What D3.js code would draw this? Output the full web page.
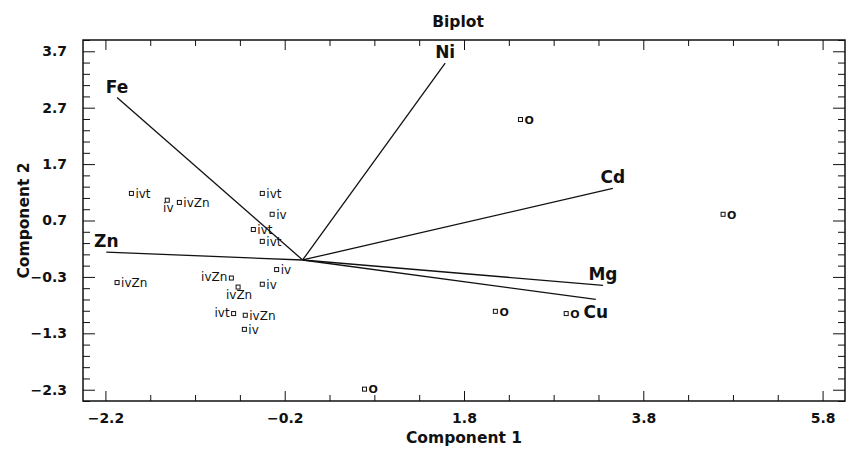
<!DOCTYPE html>
<html>
<head>
<meta charset="utf-8">
<script src="https://cdn.jsdelivr.net/npm/d3@7"></script>
<style>
  html, body { margin: 0; padding: 0; background: #fff; }
  text { font-family: "DejaVu Sans", sans-serif; fill: #111; }
</style>
</head>
<body>
<div id="chart"></div>
<script>
    // --------------------
    // 1) DATA
    // --------------------
    const xTicks = [-2.2, -0.2, 1.8, 3.8, 5.8];
    const yTicks = [3.7, 2.7, 1.7, 0.7, -0.3, -1.3, -2.3];

    // variable vectors (loadings)
    const variables = ["Fe", "Ni", "Cd", "Mg", "Cu", "Zn"];
    const loadX = [-2.07, 1.59, 3.46, 3.35, 3.27, -2.19];
    const loadY = [2.88, 3.49, 1.27, -0.45, -0.70, 0.14];
    const varLabelSide = ["above", "above", "above", "above", "below", "above"];

    // observations (scores)
    const obsLabels = ["ivt", "iv", "ivZn", "ivt", "iv", "ivt", "ivt", "iv", "ivZn", "ivZn",
                       "ivZn", "iv", "ivt", "ivZn", "iv", "O", "O", "O", "O", "O"];
    const obsX = [-1.91, -1.51, -1.375, -0.45, -0.34, -0.55, -0.45, -0.29, -2.07, -0.795,
                  -0.72, -0.45, -0.77, -0.64, -0.65, 2.43, 2.15, 2.94, 0.69, 4.69];
    const obsY = [1.18, 1.06, 1.02, 1.18, 0.81, 0.54, 0.33, -0.17, -0.40, -0.32,
                  -0.48, -0.43, -0.95, -0.98, -1.23, 2.49, -0.91, -0.95, -2.29, 0.81];
    const obsLabelSide = ["r", "b", "r", "r", "r", "r", "r", "r", "r", "l",
                          "b", "r", "l", "r", "r", "r", "r", "r", "r", "r"];

    // ----------------------
    // 2) BASIC SETUP
    // ----------------------
    const width = 849;
    const height = 457;
    const margin = { top: 40, right: 4, bottom: 56, left: 83 };
    const innerW = width - margin.left - margin.right;
    const innerH = height - margin.top - margin.bottom;

    const x = d3.scaleLinear().domain([-2.45, 6.05]).range([0, innerW]);
    const y = d3.scaleLinear().domain([-2.5, 3.9]).range([innerH, 0]);

    const xMinor = d3.range(-2.2, 6.0, 0.5).filter(v => !xTicks.some(t => Math.abs(t - v) < 1e-6));
    const yMinor = d3.range(-2.5, 3.91, 0.2).filter(v => !yTicks.some(t => Math.abs(t - v) < 1e-6));

    const svg = d3.select("#chart")
      .append("svg")
      .attr("width", width)
      .attr("height", height);

    const g = svg.append("g")
      .attr("transform", `translate(${margin.left},${margin.top})`);

    // ---------------------------
    // 3) AXES (inward ticks on all four sides)
    // ---------------------------
    function styleAxis(sel) {
      sel.select(".domain").remove();
      sel.selectAll("line").attr("stroke", "#111").attr("stroke-width", 1);
    }

    g.append("g")
      .attr("transform", `translate(0,${innerH})`)
      .call(d3.axisBottom(x).tickValues(xTicks).tickSize(-10).tickPadding(12).tickFormat(d3.format(".1f")))
      .call(styleAxis)
      .call(s => s.selectAll("text").attr("font-size", 14).attr("font-weight", "bold").attr("fill", "#111"));

    g.append("g")
      .attr("transform", `translate(0,${innerH})`)
      .call(d3.axisBottom(x).tickValues(xMinor).tickSize(-6).tickFormat(""))
      .call(styleAxis);

    g.append("g")
      .call(d3.axisTop(x).tickValues(xTicks).tickSize(-10).tickFormat(""))
      .call(styleAxis);
    g.append("g")
      .call(d3.axisTop(x).tickValues(xMinor).tickSize(-6).tickFormat(""))
      .call(styleAxis);

    g.append("g")
      .call(d3.axisLeft(y).tickValues(yTicks).tickSize(-12).tickPadding(16).tickFormat(d3.format(".1f")))
      .call(styleAxis)
      .call(s => s.selectAll("text").attr("font-size", 14).attr("font-weight", "bold").attr("fill", "#111"));

    g.append("g")
      .call(d3.axisLeft(y).tickValues(yMinor).tickSize(-7).tickFormat(""))
      .call(styleAxis);

    g.append("g")
      .attr("transform", `translate(${innerW},0)`)
      .call(d3.axisRight(y).tickValues(yTicks).tickSize(-12).tickFormat(""))
      .call(styleAxis);
    g.append("g")
      .attr("transform", `translate(${innerW},0)`)
      .call(d3.axisRight(y).tickValues(yMinor).tickSize(-7).tickFormat(""))
      .call(styleAxis);

    // frame
    g.append("rect")
      .attr("width", innerW)
      .attr("height", innerH)
      .attr("fill", "none")
      .attr("stroke", "#111")
      .attr("stroke-width", 1.5);

    // titles
    svg.append("text")
      .attr("x", margin.left + innerW / 2 - 6)
      .attr("y", 27)
      .attr("text-anchor", "middle")
      .attr("font-size", 15.5)
      .attr("font-weight", "bold")
      .text("Biplot");

    svg.append("text")
      .attr("x", margin.left + innerW / 2)
      .attr("y", 443)
      .attr("text-anchor", "middle")
      .attr("font-size", 15.5)
      .attr("font-weight", "bold")
      .text("Component 1");

    svg.append("text")
      .attr("transform", `translate(29,${margin.top + innerH / 2}) rotate(-90)`)
      .attr("text-anchor", "middle")
      .attr("font-size", 15.5)
      .attr("font-weight", "bold")
      .text("Component 2");

    // ---------------------------
    // 4) VARIABLE VECTORS
    // ---------------------------
    const vecs = variables.map((name, i) => ({ name, vx: loadX[i], vy: loadY[i], side: varLabelSide[i] }));

    g.append("g")
      .selectAll("line")
      .data(vecs)
      .enter()
      .append("line")
      .attr("x1", x(0))
      .attr("y1", y(0))
      .attr("x2", d => x(d.vx))
      .attr("y2", d => y(d.vy))
      .attr("stroke", "#111")
      .attr("stroke-width", 1.3);

    g.append("g")
      .selectAll("text")
      .data(vecs)
      .enter()
      .append("text")
      .attr("x", d => x(d.vx))
      .attr("y", d => d.side === "above" ? y(d.vy) - 5 : y(d.vy) + 19)
      .attr("text-anchor", "middle")
      .attr("font-size", 17)
      .attr("font-weight", "bold")
      .text(d => d.name);

    // ---------------------------
    // 5) OBSERVATIONS (square marker + label)
    // ---------------------------
    const obs = obsLabels.map((label, i) => ({ label, ox: obsX[i], oy: obsY[i], side: obsLabelSide[i] }));

    const pt = g.append("g")
      .selectAll("g")
      .data(obs)
      .enter()
      .append("g")
      .attr("transform", d => `translate(${x(d.ox)},${y(d.oy)})`);

    pt.append("rect")
      .attr("x", -2)
      .attr("y", -2)
      .attr("width", 4)
      .attr("height", 4)
      .attr("fill", "#fff")
      .attr("stroke", "#111")
      .attr("stroke-width", 1);

    pt.append("text")
      .attr("x", d => d.side === "r" ? 4 : d.side === "l" ? -4 : 1)
      .attr("y", d => d.side === "b" ? 12 : d.side === "l" ? 3 : 4.3)
      .attr("text-anchor", d => d.side === "r" ? "start" : d.side === "l" ? "end" : "middle")
      .attr("font-size", d => d.label === "O" ? 11 : 12)
      .attr("font-weight", d => d.label === "O" ? "bold" : "normal")
      .text(d => d.label);
</script>
</body>
</html>
